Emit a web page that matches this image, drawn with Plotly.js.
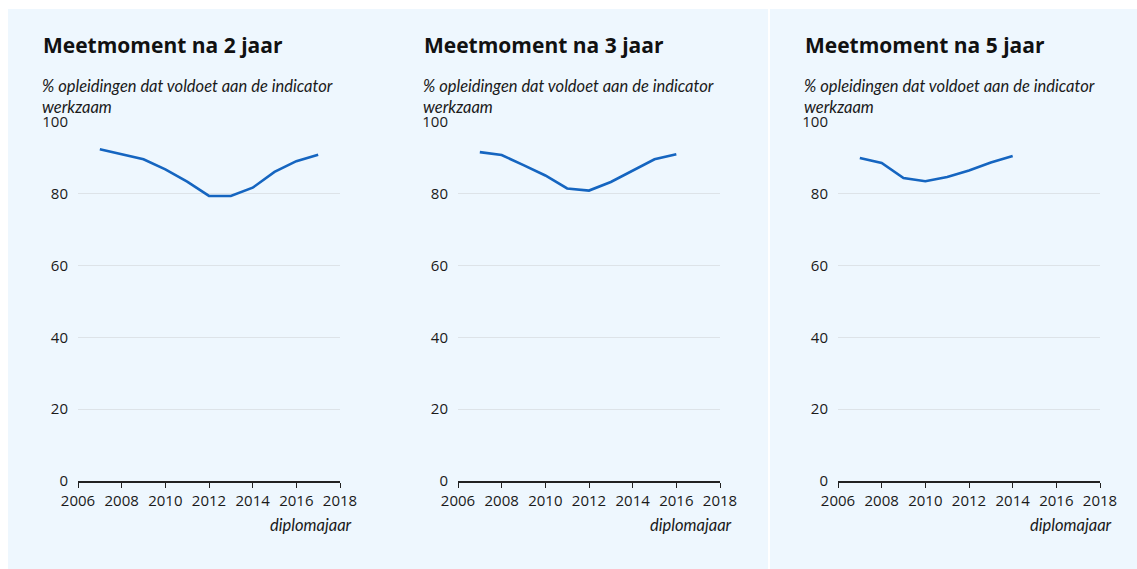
<!DOCTYPE html>
<html><head><meta charset="utf-8">
<script src="https://cdn.plot.ly/plotly-3.0.1.min.js"></script>
<style>html,body{margin:0;padding:0;background:#fff}#chart{width:1137px;height:569px}</style>
</head><body><div id="chart"></div>
<script>
const titles = ["Meetmoment na 2 jaar", "Meetmoment na 3 jaar", "Meetmoment na 5 jaar"];
const subtitle = "% opleidingen dat voldoet aan de indicator<br>werkzaam";
const xTitle = "diplomajaar";
const years2 = [2007, 2008, 2009, 2010, 2011, 2012, 2013, 2014, 2015, 2016, 2017];
const values2 = [92.4, 91.0, 89.6, 86.8, 83.4, 79.4, 79.4, 81.7, 86.1, 89.1, 90.9];
const years3 = [2007, 2008, 2009, 2010, 2011, 2012, 2013, 2014, 2015, 2016];
const values3 = [91.6, 90.8, 88.0, 85.1, 81.5, 80.9, 83.3, 86.4, 89.6, 91.0];
const years5 = [2007, 2008, 2009, 2010, 2011, 2012, 2013, 2014];
const values5 = [90.0, 88.6, 84.4, 83.5, 84.7, 86.5, 88.7, 90.5];
const xTicks = [2006, 2008, 2010, 2012, 2014, 2016, 2018];
const yTicks = [0, 20, 40, 60, 80, 100];

const W = 1137, H = 569;
const panelLeft = [78, 458, 838];
const panelWidth = 262;
const yTop = 122, yBot = 481;
const lineColor = "#1565c0";
const series = [[years2, values2], [years3, values3], [years5, values5]];

const data = series.map((s, i) => ({
  x: s[0], y: s[1], type: "scatter", mode: "lines",
  line: {color: lineColor, width: 2.6},
  xaxis: i === 0 ? "x" : "x" + (i + 1),
  yaxis: i === 0 ? "y" : "y" + (i + 1),
  hoverinfo: "skip", showlegend: false
}));

const layout = {
  width: W, height: H,
  margin: {l: 0, r: 0, t: 0, b: 0},
  paper_bgcolor: "#ffffff",
  plot_bgcolor: "rgba(0,0,0,0)",
  font: {family: "Open Sans, sans-serif", color: "#1a1a1a"},
  showlegend: false,
  shapes: [
    {type: "rect", xref: "paper", yref: "paper", x0: 8 / W, x1: 768 / W, y0: 0, y1: 1 - 9 / H,
     fillcolor: "#eef7fe", line: {width: 0}, layer: "below"},
    {type: "rect", xref: "paper", yref: "paper", x0: 770 / W, x1: 1, y0: 0, y1: 1 - 9 / H,
     fillcolor: "#eef7fe", line: {width: 0}, layer: "below"}
  ],
  annotations: []
};

for (let i = 0; i < 3; i++) {
  const xk = i === 0 ? "xaxis" : "xaxis" + (i + 1);
  const yk = i === 0 ? "yaxis" : "yaxis" + (i + 1);
  const xa = i === 0 ? "x" : "x" + (i + 1);
  layout[xk] = {
    domain: [panelLeft[i] / W, (panelLeft[i] + panelWidth) / W],
    anchor: i === 0 ? "y" : "y" + (i + 1),
    range: [2006, 2018],
    tickvals: xTicks, ticktext: xTicks.map(String),
    ticks: "outside", ticklen: 5, tickwidth: 1, tickcolor: "#222",
    showline: true, linecolor: "#222", linewidth: 2,
    showgrid: false, zeroline: false,
    tickfont: {family: "Open Sans, sans-serif", size: 15, color: "#1a1a1a"},
    ticklabelstandoff: 0,
    fixedrange: true
  };
  layout[yk] = {
    domain: [1 - yBot / H, 1 - yTop / H],
    anchor: xa,
    range: [0, 100],
    tickvals: yTicks, ticktext: yTicks.map(String),
    ticks: "", showline: false, zeroline: false,
    showgrid: true, gridcolor: "#dde3e8", gridwidth: 1,
    tickfont: {family: "Open Sans, sans-serif", size: 15, color: "#1a1a1a"},
    ticklabelstandoff: 9,
    fixedrange: true
  };
  const tx = [43, 424, 805][i];
  layout.annotations.push({
    xref: "paper", yref: "paper", x: (tx - 2) / W, y: 1 - 45 / H,
    xanchor: "left", yanchor: "middle", showarrow: false,
    text: "<b>" + titles[i] + "</b>",
    font: {family: "Open Sans, sans-serif", size: 21, color: "#111"}
  });
  layout.annotations.push({
    xref: "paper", yref: "paper", x: (tx - 3) / W, y: 1 - 74 / H,
    xanchor: "left", yanchor: "top", align: "left", showarrow: false,
    text: "<i>" + subtitle + "</i>",
    font: {family: "Lato, sans-serif", size: 16.5, color: "#1a1a1a"}
  });
  layout.annotations.push({
    xref: "paper", yref: "paper", x: (panelLeft[i] + panelWidth + 14) / W, y: 1 - 525 / H,
    xanchor: "right", yanchor: "middle", showarrow: false,
    text: "<i>" + xTitle + "</i>",
    font: {family: "Lato, sans-serif", size: 16.5, color: "#1a1a1a"}
  });
}

Plotly.newPlot("chart", data, layout, {staticPlot: true, displayModeBar: false});
</script></body></html>
